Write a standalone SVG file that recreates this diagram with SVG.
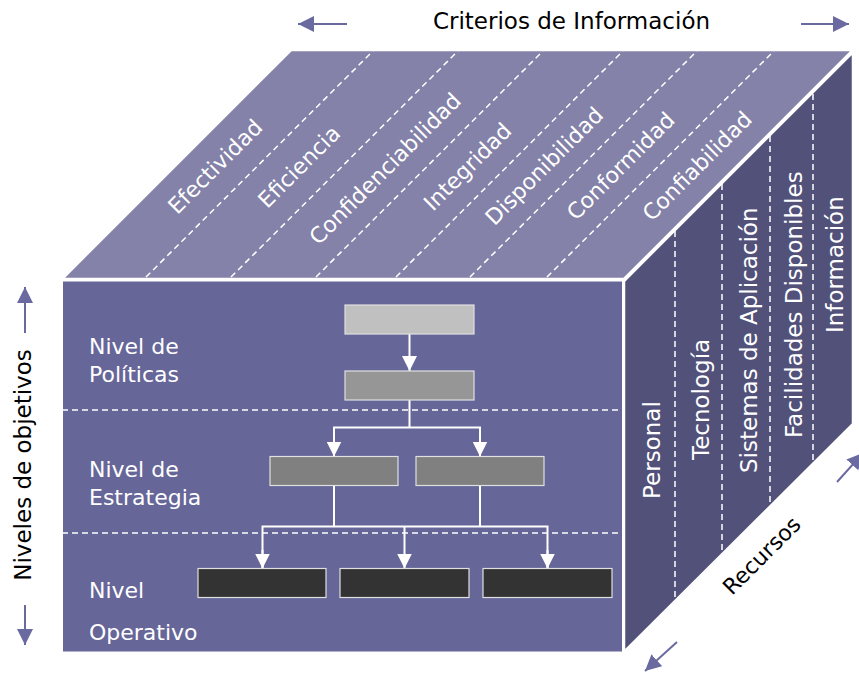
<svg xmlns="http://www.w3.org/2000/svg" width="859" height="673" viewBox="0 0 859 673">
<style>
.lbl{font-family:"DejaVu Sans","Liberation Sans",sans-serif;fill:#ffffff;}
.blk{font-family:"DejaVu Sans","Liberation Sans",sans-serif;fill:#000000;}
.dash{stroke:#ffffff;stroke-width:1.5;stroke-dasharray:6 4;fill:none;}
.conn{stroke:#ffffff;stroke-width:2;fill:none;}
.box{stroke:#e0e0e0;stroke-width:1.2;}
.axis{stroke:#6a6aa0;stroke-width:2;fill:none;}
</style>
<defs>
<marker id="wa" viewBox="0 0 15 15" refX="15" refY="7.5" markerWidth="15" markerHeight="15" markerUnits="userSpaceOnUse" orient="auto">
<path d="M0,0 L15,7.5 L0,15 Z" fill="#ffffff"/>
</marker>
<marker id="pa" viewBox="0 0 16 16" refX="16" refY="8" markerWidth="16" markerHeight="16" markerUnits="userSpaceOnUse" orient="auto">
<path d="M0,0 L16,8 L0,16 Z" fill="#6a6aa0"/>
</marker>
</defs>
<rect width="859" height="673" fill="#ffffff"/>

<g id="cube">
<polygon points="62,279 624,279 853,50 291,50" fill="#8482a8" stroke="#ffffff" stroke-width="2.5"/>
<polygon points="624,281 853,52 853,424 624,652" fill="#52517a" stroke="#ffffff" stroke-width="2.5"/>
<rect x="62" y="280.5" width="561" height="372" fill="#666699" stroke="#ffffff" stroke-width="2"/>
</g>

<g id="top-dividers">
<line class="dash" x1="146" y1="277" x2="373" y2="51"/>
<line class="dash" x1="231" y1="277" x2="458" y2="51"/>
<line class="dash" x1="316" y1="277" x2="543" y2="51"/>
<line class="dash" x1="396" y1="277" x2="623" y2="51"/>
<line class="dash" x1="470" y1="277" x2="697" y2="51"/>
<line class="dash" x1="547" y1="277" x2="774" y2="51"/>
</g>

<g id="criterios" font-size="22">
<text class="lbl" text-anchor="middle" transform="translate(220.5,172) rotate(-45)">Efectividad</text>
<text class="lbl" text-anchor="middle" transform="translate(304.5,172) rotate(-45)">Eficiencia</text>
<text class="lbl" text-anchor="middle" transform="translate(390.5,174) rotate(-45)">Confidenciabilidad</text>
<text class="lbl" text-anchor="middle" transform="translate(473,172) rotate(-45)">Integridad</text>
<text class="lbl" text-anchor="middle" transform="translate(549.5,171.5) rotate(-45)">Disponibilidad</text>
<text class="lbl" text-anchor="middle" transform="translate(626,171.5) rotate(-45)">Conformidad</text>
<text class="lbl" text-anchor="middle" transform="translate(702.5,171.5) rotate(-45)">Confiabilidad</text>
</g>

<g id="right-dividers">
<line class="dash" x1="675" y1="231" x2="675" y2="601"/>
<line class="dash" x1="722" y1="184" x2="722" y2="554"/>
<line class="dash" x1="770" y1="136" x2="770" y2="506"/>
<line class="dash" x1="813" y1="94" x2="813" y2="463"/>
</g>

<g id="recursos-labels" font-size="23">
<text class="lbl" transform="translate(660,499) rotate(-90)">Personal</text>
<text class="lbl" transform="translate(709,460) rotate(-90)">Tecnología</text>
<text class="lbl" transform="translate(756.5,473) rotate(-90)">Sistemas de Aplicación</text>
<text class="lbl" transform="translate(801.5,438) rotate(-90)">Facilidades Disponibles</text>
<text class="lbl" transform="translate(843,333) rotate(-90)">Información</text>
</g>

<g id="front-dividers">
<line class="dash" x1="62" y1="410" x2="622" y2="410"/>
<line class="dash" x1="62" y1="533" x2="622" y2="533"/>
</g>

<g id="level-labels" font-size="22">
<text class="lbl" x="89" y="354">Nivel de</text>
<text class="lbl" x="89" y="382">Políticas</text>
<text class="lbl" x="89" y="477">Nivel de</text>
<text class="lbl" x="89" y="505">Estrategia</text>
<text class="lbl" x="89" y="598">Nivel</text>
<text class="lbl" x="89" y="640">Operativo</text>
</g>

<g id="connectors">
<line class="conn" x1="409.5" y1="334" x2="409.5" y2="371" marker-end="url(#wa)"/>
<line class="conn" x1="409.5" y1="400" x2="409.5" y2="427.5"/>
<polyline class="conn" points="334,456.5 334,427.5 480,427.5 480,456.5"/>
<line class="conn" x1="334" y1="441" x2="334" y2="456.5" marker-end="url(#wa)"/>
<line class="conn" x1="480" y1="441" x2="480" y2="456.5" marker-end="url(#wa)"/>
<line class="conn" x1="334" y1="485.5" x2="334" y2="526.5"/>
<line class="conn" x1="480" y1="485.5" x2="480" y2="526.5"/>
<polyline class="conn" points="262.5,568.5 262.5,526.5 547.5,526.5 547.5,568.5"/>
<line class="conn" x1="404.5" y1="526.5" x2="404.5" y2="568.5" marker-end="url(#wa)"/>
<line class="conn" x1="262.5" y1="550" x2="262.5" y2="568.5" marker-end="url(#wa)"/>
<line class="conn" x1="547.5" y1="550" x2="547.5" y2="568.5" marker-end="url(#wa)"/>
</g>

<g id="node-politicas"><rect class="box" x="345" y="305" width="129" height="29" fill="#c0c0c0"/></g>
<g id="node-politicas-2"><rect class="box" x="345" y="371" width="129" height="29" fill="#969696"/></g>
<g id="node-estrategia-1"><rect class="box" x="270" y="456.5" width="128" height="29" fill="#808080"/></g>
<g id="node-estrategia-2"><rect class="box" x="416" y="456.5" width="128" height="29" fill="#808080"/></g>
<g id="node-operativo-1"><rect class="box" x="198" y="568.5" width="128" height="29" fill="#333333"/></g>
<g id="node-operativo-2"><rect class="box" x="340" y="568.5" width="129" height="29" fill="#333333"/></g>
<g id="node-operativo-3"><rect class="box" x="483" y="568.5" width="129" height="29" fill="#333333"/></g>

<g id="axes">
<line class="axis" x1="347" y1="24" x2="298" y2="24" marker-end="url(#pa)"/>
<line class="axis" x1="801" y1="24" x2="849" y2="24" marker-end="url(#pa)"/>
<line class="axis" x1="25" y1="333" x2="25" y2="287" marker-end="url(#pa)"/>
<line class="axis" x1="25" y1="605" x2="25" y2="645" marker-end="url(#pa)"/>
<line class="axis" x1="677" y1="642" x2="645" y2="671" marker-end="url(#pa)"/>
<line class="axis" x1="837" y1="482" x2="863" y2="453" marker-end="url(#pa)"/>
</g>

<g id="axis-labels">
<text class="blk" font-size="23" x="571.5" y="29" text-anchor="middle">Criterios de Información</text>
<text class="blk" font-size="23" text-anchor="middle" transform="translate(31,465) rotate(-90)">Niveles de objetivos</text>
<text class="blk" font-size="22" text-anchor="middle" transform="translate(767,561) rotate(-45)">Recursos</text>
</g>
</svg>
